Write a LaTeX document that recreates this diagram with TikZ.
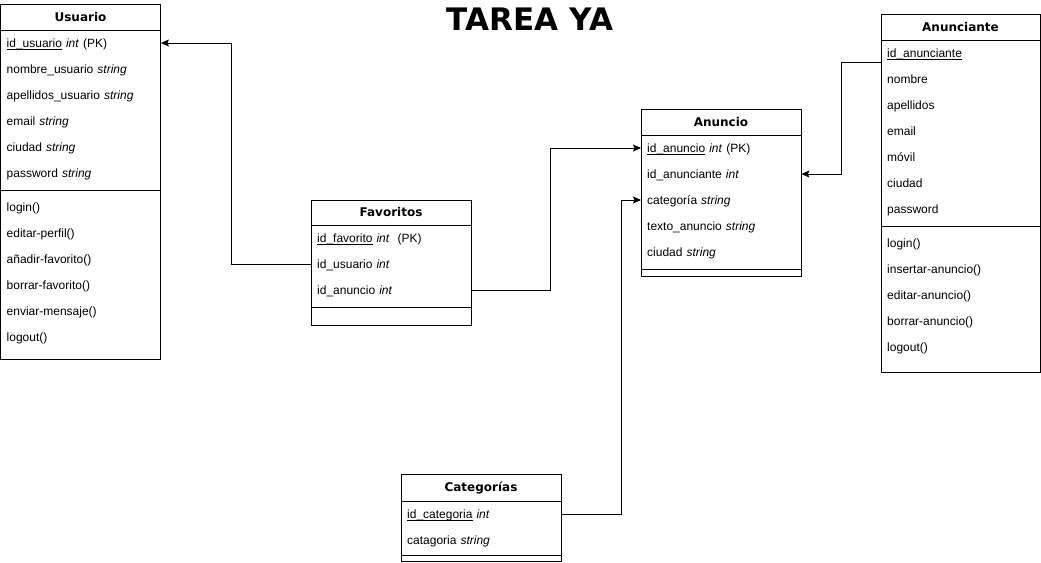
\documentclass[tikz,border=0pt]{standalone}
\usepackage{fontspec}
\setmainfont{Liberation Sans}
\newfontfamily\headfont{DejaVu Sans}
\usetikzlibrary{arrows.meta}

% subrayado pegado a la linea base (clave primaria)
\newcommand\pkline[1]{\setbox0\hbox{#1}\rlap{\rule[-1.6pt]{\wd0}{0.6pt}}#1}

\tikzset{
  box/.style={draw, line width=0.9pt},
  head/.style={font=\headfont\bfseries\fontsize{12}{14}\selectfont},
  row/.style={anchor=west, text width=148pt, inner xsep=6pt, inner ysep=0pt, text height=9pt, text depth=3pt,
    align=left, font=\fontsize{12}{14}\selectfont},
  link/.style={line width=0.8pt, -{Stealth[length=8pt,width=7pt,inset=1.5pt]}},
}

\begin{document}
\begin{tikzpicture}[x=1pt,y=-1pt]
    \useasboundingbox (0,0) rectangle (1041,562);
    \node[font=\headfont\bfseries\fontsize{31}{36}\selectfont] (title) at (530,19) {TAREA YA};

    % Usuario
    \draw[box] (0.5,4) rectangle (160.5,359);
    \draw[box] (0.5,30) -- (160.5,30);
    \draw[box] (0.5,190) -- (160.5,190);
    \node[head] (usr) at (80.5,17) {Usuario};
    \foreach \i/\t in {1/{\pkline{id\_usuario} \textit{int} (PK)}, 2/{nombre\_usuario \textit{string}},
        3/{apellidos\_usuario \textit{string}}, 4/{email \textit{string}}, 5/{ciudad \textit{string}}, 6/{password \textit{string}}}
        \node[row] (usr-\i) at (0.5,{18.5+26*\i}) {\t};
    \foreach \i/\t in {1/login(), 2/editar-perfil(), 3/añadir-favorito(), 4/borrar-favorito(), 5/enviar-mensaje(), 6/logout()}
        \node[row] (usr-m\i) at (0.5,{182.5+26*\i}) {\t};

    % Favoritos
    \draw[box] (311,200) rectangle (471,325);
    \draw[box] (311,225.5) -- (471,225.5);
    \draw[box] (311,307) -- (471,307);
    \node[head] (fav) at (391,212.5) {Favoritos};
    \foreach \i/\t in {1/{\pkline{id\_favorito} \textit{int}\ \ (PK)}, 2/{id\_usuario \textit{int}}, 3/{id\_anuncio \textit{int}}}
        \node[row] (fav-\i) at (311,{213.5+26*\i}) {\t};

    % Anuncio
    \draw[box] (641,109) rectangle (801,276);
    \draw[box] (641,135) -- (801,135);
    \draw[box] (641,269) -- (801,269);
    \node[head] (anu) at (721,122) {Anuncio};
    \foreach \i/\t in {1/{\pkline{id\_anuncio} \textit{int} (PK)}, 2/{id\_anunciante \textit{int}}, 3/{categoría \textit{string}},
        4/{texto\_anuncio \textit{string}}, 5/{ciudad \textit{string}}}
        \node[row] (anu-\i) at (641,{123.5+26*\i}) {\t};

    % Anunciante
    \draw[box] (881,14) rectangle (1040,372);
    \draw[box] (881,40) -- (1040,40);
    \draw[box] (881,226) -- (1040,226);
    \node[head] (ant) at (960.5,27) {Anunciante};
    \foreach \i/\t in {1/\pkline{id\_anunciante}, 2/nombre, 3/apellidos, 4/email, 5/móvil, 6/ciudad, 7/password}
        \node[row] (ant-\i) at (881,{28.5+26*\i}) {\t};
    \foreach \i/\t in {1/login(), 2/insertar-anuncio(), 3/editar-anuncio(), 4/borrar-anuncio(), 5/logout()}
        \node[row] (ant-m\i) at (881,{218.5+26*\i}) {\t};

    % Categorias
    \draw[box] (401,474) rectangle (561,561);
    \draw[box] (401,501) -- (561,501);
    \draw[box] (401,555) -- (561,555);
    \node[head] (cat) at (481,487.5) {Categorías};
    \foreach \i/\t in {1/{\pkline{id\_categoria} \textit{int}}, 2/{catagoria \textit{string}}}
        \node[row] (cat-\i) at (401,{489.5+26*\i}) {\t};

    % relaciones
    \draw[link] ([yshift=1.5pt]fav-2.west) -- ++(-80,0) |- ([yshift=1.5pt]usr-1.east);
    \draw[link] ([yshift=1.5pt]fav-3.east) -- ++(79,0) |- ([yshift=1.5pt]anu-1.west);
    \draw[link] ([yshift=1.5pt]cat-1.east) -- ++(60,0) |- ([yshift=1.5pt]anu-3.west);
    \draw[link] ([yshift=-7.5pt]ant-1.west) -- ++(-40,0) |- ([yshift=1.5pt]anu-2.east);
\end{tikzpicture}
\end{document}
